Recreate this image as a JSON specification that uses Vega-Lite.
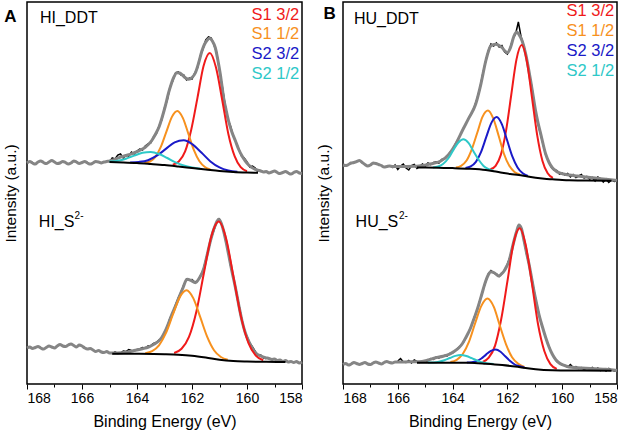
{
"$schema":"https://vega.github.io/schema/vega-lite/v6.json",
"padding":{"left":2,"top":1,"right":0,"bottom":0},
"config":{"font":"Liberation Sans","view":{"stroke":"#000","strokeWidth":1.5},
 "axis":{"labelFont":"Liberation Sans","titleFont":"Liberation Sans","labelColor":"#000","titleColor":"#000","titleFontWeight":"normal","grid":false,"domain":false,"tickColor":"#000"},
 "text":{"font":"Liberation Sans"}},
"spacing":6,
"datasets":{
"A":[
{"k":"e","s":"t","x":168.0,"y":221},{"k":"e","s":"t","x":167.9,"y":222.5},{"k":"e","s":"t","x":167.8,"y":221},{"k":"e","s":"t","x":167.7,"y":220},{"k":"e","s":"t","x":167.6,"y":222},{"k":"e","s":"t","x":167.5,"y":223},{"k":"e","s":"t","x":167.4,"y":221.5},{"k":"e","s":"t","x":167.3,"y":220.5},{"k":"e","s":"t","x":167.2,"y":222},{"k":"e","s":"t","x":167.1,"y":223.5},{"k":"e","s":"t","x":167.0,"y":222},{"k":"e","s":"t","x":166.9,"y":220.5},{"k":"e","s":"t","x":166.8,"y":221},{"k":"e","s":"t","x":166.7,"y":222.5},{"k":"e","s":"t","x":166.6,"y":221.5},{"k":"e","s":"t","x":166.5,"y":220},{"k":"e","s":"t","x":166.4,"y":221},{"k":"e","s":"t","x":166.3,"y":223},{"k":"e","s":"t","x":166.2,"y":222},{"k":"e","s":"t","x":166.1,"y":220.5},{"k":"e","s":"t","x":166.0,"y":221.5},{"k":"e","s":"t","x":165.9,"y":222.5},{"k":"e","s":"t","x":165.8,"y":221},{"k":"e","s":"t","x":165.7,"y":220},{"k":"e","s":"t","x":165.6,"y":221},{"k":"e","s":"t","x":165.5,"y":222.5},{"k":"e","s":"t","x":165.4,"y":222},{"k":"e","s":"t","x":165.3,"y":221},{"k":"e","s":"t","x":165.2,"y":222},{"k":"e","s":"t","x":165.1,"y":222.5},{"k":"e","s":"t","x":165.0,"y":223},
{"k":"e","s":"t","x":164.91,"y":223.7},{"k":"e","s":"t","x":164.73,"y":225.5},{"k":"e","s":"t","x":164.55,"y":227.3},{"k":"e","s":"t","x":164.37,"y":228.8},{"k":"e","s":"t","x":164.18,"y":230.3},{"k":"e","s":"t","x":164.0,"y":232.3},{"k":"e","s":"t","x":163.82,"y":234.7},{"k":"e","s":"t","x":163.7,"y":236.8},{"k":"e","s":"t","x":163.58,"y":239.7},{"k":"e","s":"t","x":163.45,"y":244},{"k":"e","s":"t","x":163.33,"y":249.7},{"k":"e","s":"t","x":163.2,"y":257},{"k":"e","s":"t","x":163.09,"y":266.3},{"k":"e","s":"t","x":162.97,"y":278},{"k":"e","s":"t","x":162.85,"y":291.3},{"k":"e","s":"t","x":162.76,"y":299.5},{"k":"e","s":"t","x":162.67,"y":306.3},{"k":"e","s":"t","x":162.55,"y":311.3},{"k":"e","s":"t","x":162.45,"y":311},{"k":"e","s":"t","x":162.35,"y":309},{"k":"e","s":"t","x":162.23,"y":306},{"k":"e","s":"t","x":162.12,"y":304.7},{"k":"e","s":"t","x":162.0,"y":306.5},{"k":"e","s":"t","x":161.88,"y":311},{"k":"e","s":"t","x":161.76,"y":321},{"k":"e","s":"t","x":161.64,"y":333},{"k":"e","s":"t","x":161.54,"y":340},{"k":"e","s":"t","x":161.45,"y":343.7},{"k":"e","s":"t","x":161.37,"y":345.7},{"k":"e","s":"t","x":161.26,"y":343},{"k":"e","s":"t","x":161.15,"y":336},{"k":"e","s":"t","x":161.06,"y":324},{"k":"e","s":"t","x":160.97,"y":309.7},{"k":"e","s":"t","x":160.91,"y":298},{"k":"e","s":"t","x":160.85,"y":286},{"k":"e","s":"t","x":160.76,"y":274},{"k":"e","s":"t","x":160.67,"y":263},{"k":"e","s":"t","x":160.55,"y":252},{"k":"e","s":"t","x":160.42,"y":243},{"k":"e","s":"t","x":160.3,"y":234.5},{"k":"e","s":"t","x":160.18,"y":228},{"k":"e","s":"t","x":160.06,"y":223},{"k":"e","s":"t","x":159.94,"y":219},{"k":"e","s":"t","x":159.82,"y":216.5},{"k":"e","s":"t","x":159.7,"y":214.7},{"k":"e","s":"t","x":159.6,"y":213.8},
{"k":"e","s":"t","x":159.5,"y":213},{"k":"e","s":"t","x":159.4,"y":212},{"k":"e","s":"t","x":159.3,"y":212.5},{"k":"e","s":"t","x":159.2,"y":211},{"k":"e","s":"t","x":159.1,"y":212},{"k":"e","s":"t","x":159.0,"y":213},{"k":"e","s":"t","x":158.9,"y":211.5},{"k":"e","s":"t","x":158.8,"y":210.5},{"k":"e","s":"t","x":158.7,"y":211.5},{"k":"e","s":"t","x":158.6,"y":212.5},{"k":"e","s":"t","x":158.5,"y":211},{"k":"e","s":"t","x":158.4,"y":210},{"k":"e","s":"t","x":158.3,"y":211.5},{"k":"e","s":"t","x":158.2,"y":212.5},{"k":"e","s":"t","x":158.1,"y":211},{"k":"e","s":"t","x":158.0,"y":210.5},
{"k":"r","s":"t","x":165.0,"y":222},{"k":"r","s":"t","x":164.9,"y":226},{"k":"r","s":"t","x":164.8,"y":225},{"k":"r","s":"t","x":164.7,"y":229},{"k":"r","s":"t","x":164.6,"y":230},{"k":"r","s":"t","x":164.5,"y":226},{"k":"r","s":"t","x":164.4,"y":229},{"k":"r","s":"t","x":164.3,"y":228},{"k":"r","s":"t","x":164.2,"y":232},{"k":"r","s":"t","x":164.1,"y":230},{"k":"r","s":"t","x":164.0,"y":233},{"k":"r","s":"t","x":163.9,"y":235},{"k":"r","s":"t","x":163.8,"y":234},{"k":"r","s":"t","x":163.7,"y":238},{"k":"r","s":"t","x":163.6,"y":240},{"k":"r","s":"t","x":163.5,"y":241},{"k":"r","s":"t","x":163.4,"y":247},{"k":"r","s":"t","x":163.3,"y":250},{"k":"r","s":"t","x":163.2,"y":258},{"k":"r","s":"t","x":163.1,"y":264},{"k":"r","s":"t","x":163.0,"y":276},{"k":"r","s":"t","x":162.9,"y":284},{"k":"r","s":"t","x":162.8,"y":297},{"k":"r","s":"t","x":162.7,"y":303},{"k":"r","s":"t","x":162.6,"y":311},{"k":"r","s":"t","x":162.5,"y":312},{"k":"r","s":"t","x":162.4,"y":309},{"k":"r","s":"t","x":162.3,"y":309},{"k":"r","s":"t","x":162.2,"y":304},{"k":"r","s":"t","x":162.1,"y":306},{"k":"r","s":"t","x":162.0,"y":305},{"k":"r","s":"t","x":161.9,"y":311},{"k":"r","s":"t","x":161.8,"y":316},{"k":"r","s":"t","x":161.7,"y":328},{"k":"r","s":"t","x":161.6,"y":335},{"k":"r","s":"t","x":161.5,"y":344},{"k":"r","s":"t","x":161.4,"y":347},{"k":"r","s":"t","x":161.3,"y":346},{"k":"r","s":"t","x":161.2,"y":339},{"k":"r","s":"t","x":161.1,"y":331},{"k":"r","s":"t","x":161.0,"y":313},{"k":"r","s":"t","x":160.9,"y":298},{"k":"r","s":"t","x":160.8,"y":280},{"k":"r","s":"t","x":160.7,"y":265},{"k":"r","s":"t","x":160.6,"y":258},{"k":"r","s":"t","x":160.5,"y":248},{"k":"r","s":"t","x":160.4,"y":242},{"k":"r","s":"t","x":160.3,"y":235},{"k":"r","s":"t","x":160.2,"y":228},{"k":"r","s":"t","x":160.1,"y":226},{"k":"r","s":"t","x":160.0,"y":222},{"k":"r","s":"t","x":159.9,"y":217},{"k":"r","s":"t","x":159.8,"y":218},{"k":"r","s":"t","x":159.7,"y":216},{"k":"r","s":"t","x":159.6,"y":212},
{"k":"b","s":"t","x":165.0,"y":222},{"k":"b","s":"t","x":164.5,"y":221.6},{"k":"b","s":"t","x":164.0,"y":221},{"k":"b","s":"t","x":163.5,"y":220},{"k":"b","s":"t","x":163.0,"y":218.9},{"k":"b","s":"t","x":162.5,"y":217.5},{"k":"b","s":"t","x":162.0,"y":216},{"k":"b","s":"t","x":161.5,"y":214.5},{"k":"b","s":"t","x":161.0,"y":213},{"k":"b","s":"t","x":160.5,"y":212},{"k":"b","s":"t","x":160.0,"y":211.5},{"k":"b","s":"t","x":159.6,"y":211.3},
{"k":"c","s":"t","c":"S1 3/2","x":160.0,"y":212.8},{"k":"c","s":"t","c":"S1 3/2","x":160.23,"y":216.8},{"k":"c","s":"t","c":"S1 3/2","x":160.45,"y":227.8},{"k":"c","s":"t","c":"S1 3/2","x":160.68,"y":250.3},{"k":"c","s":"t","c":"S1 3/2","x":160.9,"y":283.8},{"k":"c","s":"t","c":"S1 3/2","x":161.13,"y":316.7},{"k":"c","s":"t","c":"S1 3/2","x":161.35,"y":331},{"k":"c","s":"t","c":"S1 3/2","x":161.58,"y":318},{"k":"c","s":"t","c":"S1 3/2","x":161.8,"y":286.4},{"k":"c","s":"t","c":"S1 3/2","x":162.03,"y":254.1},{"k":"c","s":"t","c":"S1 3/2","x":162.25,"y":232.6},{"k":"c","s":"t","c":"S1 3/2","x":162.48,"y":222.5},{"k":"c","s":"t","c":"S1 3/2","x":162.7,"y":219.4},
{"k":"c","s":"t","c":"S1 1/2","x":161.33,"y":214.5},{"k":"c","s":"t","c":"S1 1/2","x":161.53,"y":217},{"k":"c","s":"t","c":"S1 1/2","x":161.73,"y":222.7},{"k":"c","s":"t","c":"S1 1/2","x":161.93,"y":233.8},{"k":"c","s":"t","c":"S1 1/2","x":162.13,"y":250},{"k":"c","s":"t","c":"S1 1/2","x":162.33,"y":265.9},{"k":"c","s":"t","c":"S1 1/2","x":162.53,"y":273},{"k":"c","s":"t","c":"S1 1/2","x":162.73,"y":267.1},{"k":"c","s":"t","c":"S1 1/2","x":162.93,"y":252.4},{"k":"c","s":"t","c":"S1 1/2","x":163.13,"y":237.3},{"k":"c","s":"t","c":"S1 1/2","x":163.33,"y":227.2},{"k":"c","s":"t","c":"S1 1/2","x":163.53,"y":222.5},{"k":"c","s":"t","c":"S1 1/2","x":163.73,"y":221.1},
{"k":"c","s":"t","c":"S2 3/2","x":160.35,"y":212.2},{"k":"c","s":"t","c":"S2 3/2","x":160.68,"y":213.5},{"k":"c","s":"t","c":"S2 3/2","x":161.0,"y":216.6},{"k":"c","s":"t","c":"S2 3/2","x":161.33,"y":222.6},{"k":"c","s":"t","c":"S2 3/2","x":161.65,"y":231.2},{"k":"c","s":"t","c":"S2 3/2","x":161.98,"y":239.6},{"k":"c","s":"t","c":"S2 3/2","x":162.3,"y":243.7},{"k":"c","s":"t","c":"S2 3/2","x":162.63,"y":241.6},{"k":"c","s":"t","c":"S2 3/2","x":162.95,"y":235.1},{"k":"c","s":"t","c":"S2 3/2","x":163.28,"y":228.3},{"k":"c","s":"t","c":"S2 3/2","x":163.6,"y":223.8},{"k":"c","s":"t","c":"S2 3/2","x":163.93,"y":222.1},{"k":"c","s":"t","c":"S2 3/2","x":164.25,"y":221.6},
{"k":"c","s":"t","c":"S2 1/2","x":161.7,"y":215.2},{"k":"c","s":"t","c":"S2 1/2","x":162.0,"y":216.5},{"k":"c","s":"t","c":"S2 1/2","x":162.3,"y":218.5},{"k":"c","s":"t","c":"S2 1/2","x":162.6,"y":221.7},{"k":"c","s":"t","c":"S2 1/2","x":162.9,"y":226},{"k":"c","s":"t","c":"S2 1/2","x":163.2,"y":230},{"k":"c","s":"t","c":"S2 1/2","x":163.5,"y":232},{"k":"c","s":"t","c":"S2 1/2","x":163.8,"y":231.2},{"k":"c","s":"t","c":"S2 1/2","x":164.1,"y":228.4},{"k":"c","s":"t","c":"S2 1/2","x":164.4,"y":225.3},{"k":"c","s":"t","c":"S2 1/2","x":164.7,"y":223.3},{"k":"c","s":"t","c":"S2 1/2","x":165.0,"y":222.5},
{"k":"e","s":"b","x":168.0,"y":36},{"k":"e","s":"b","x":167.9,"y":37},{"k":"e","s":"b","x":167.8,"y":35.5},{"k":"e","s":"b","x":167.7,"y":36.5},{"k":"e","s":"b","x":167.6,"y":37.5},{"k":"e","s":"b","x":167.5,"y":36},{"k":"e","s":"b","x":167.4,"y":35},{"k":"e","s":"b","x":167.3,"y":36.5},{"k":"e","s":"b","x":167.2,"y":38},{"k":"e","s":"b","x":167.1,"y":37},{"k":"e","s":"b","x":167.0,"y":36},{"k":"e","s":"b","x":166.9,"y":38},{"k":"e","s":"b","x":166.8,"y":39.5},{"k":"e","s":"b","x":166.7,"y":38},{"k":"e","s":"b","x":166.6,"y":37.5},{"k":"e","s":"b","x":166.5,"y":39},{"k":"e","s":"b","x":166.4,"y":40},{"k":"e","s":"b","x":166.3,"y":38.5},{"k":"e","s":"b","x":166.2,"y":37},{"k":"e","s":"b","x":166.1,"y":39},{"k":"e","s":"b","x":166.0,"y":38},{"k":"e","s":"b","x":165.9,"y":36},{"k":"e","s":"b","x":165.8,"y":35},{"k":"e","s":"b","x":165.7,"y":35.5},{"k":"e","s":"b","x":165.6,"y":34},{"k":"e","s":"b","x":165.5,"y":32.5},{"k":"e","s":"b","x":165.4,"y":33.5},{"k":"e","s":"b","x":165.3,"y":32},{"k":"e","s":"b","x":165.2,"y":31.5},{"k":"e","s":"b","x":165.1,"y":32.5},{"k":"e","s":"b","x":165.0,"y":31},
{"k":"e","s":"b","x":164.9,"y":31},{"k":"e","s":"b","x":164.55,"y":31.3},{"k":"e","s":"b","x":164.06,"y":33.7},{"k":"e","s":"b","x":163.8,"y":35.3},{"k":"e","s":"b","x":163.58,"y":37},{"k":"e","s":"b","x":163.4,"y":39.5},{"k":"e","s":"b","x":163.21,"y":43},{"k":"e","s":"b","x":163.09,"y":47},{"k":"e","s":"b","x":162.97,"y":53},{"k":"e","s":"b","x":162.85,"y":61},{"k":"e","s":"b","x":162.73,"y":69.7},{"k":"e","s":"b","x":162.6,"y":78},{"k":"e","s":"b","x":162.48,"y":86.3},{"k":"e","s":"b","x":162.33,"y":96},{"k":"e","s":"b","x":162.18,"y":104.7},{"k":"e","s":"b","x":162.03,"y":103.5},{"k":"e","s":"b","x":161.88,"y":101.3},{"k":"e","s":"b","x":161.73,"y":106},{"k":"e","s":"b","x":161.58,"y":114.7},{"k":"e","s":"b","x":161.45,"y":129},{"k":"e","s":"b","x":161.33,"y":143},{"k":"e","s":"b","x":161.24,"y":152},{"k":"e","s":"b","x":161.15,"y":159},{"k":"e","s":"b","x":161.03,"y":164.7},{"k":"e","s":"b","x":160.94,"y":161},{"k":"e","s":"b","x":160.85,"y":153},{"k":"e","s":"b","x":160.76,"y":142},{"k":"e","s":"b","x":160.67,"y":129.7},{"k":"e","s":"b","x":160.55,"y":113},{"k":"e","s":"b","x":160.42,"y":96.3},{"k":"e","s":"b","x":160.3,"y":79},{"k":"e","s":"b","x":160.18,"y":63},{"k":"e","s":"b","x":160.06,"y":51},{"k":"e","s":"b","x":159.94,"y":43},{"k":"e","s":"b","x":159.82,"y":36.5},{"k":"e","s":"b","x":159.7,"y":31.3},{"k":"e","s":"b","x":159.5,"y":28},{"k":"e","s":"b","x":159.33,"y":26.3},
{"k":"e","s":"b","x":159.2,"y":25.5},{"k":"e","s":"b","x":159.1,"y":24.5},{"k":"e","s":"b","x":159.0,"y":25},{"k":"e","s":"b","x":158.9,"y":23.5},{"k":"e","s":"b","x":158.8,"y":24},{"k":"e","s":"b","x":158.7,"y":22.5},{"k":"e","s":"b","x":158.6,"y":23.5},{"k":"e","s":"b","x":158.5,"y":22},{"k":"e","s":"b","x":158.4,"y":22.5},{"k":"e","s":"b","x":158.3,"y":21.5},{"k":"e","s":"b","x":158.2,"y":22.5},{"k":"e","s":"b","x":158.1,"y":21},{"k":"e","s":"b","x":158.0,"y":22},
{"k":"r","s":"b","x":164.9,"y":30},{"k":"r","s":"b","x":164.8,"y":32},{"k":"r","s":"b","x":164.7,"y":30.5},{"k":"r","s":"b","x":164.6,"y":31},{"k":"r","s":"b","x":164.5,"y":33},{"k":"r","s":"b","x":164.4,"y":32.5},{"k":"r","s":"b","x":164.3,"y":34.5},{"k":"r","s":"b","x":164.2,"y":33.5},{"k":"r","s":"b","x":164.1,"y":33},{"k":"r","s":"b","x":164.0,"y":34.5},{"k":"r","s":"b","x":163.9,"y":35},{"k":"r","s":"b","x":163.8,"y":36.5},{"k":"r","s":"b","x":163.7,"y":36},{"k":"r","s":"b","x":163.6,"y":38},{"k":"r","s":"b","x":163.5,"y":38.5},{"k":"r","s":"b","x":163.4,"y":40.5},{"k":"r","s":"b","x":163.3,"y":41.5},{"k":"r","s":"b","x":163.2,"y":44},{"k":"r","s":"b","x":163.1,"y":46},{"k":"r","s":"b","x":163.0,"y":52},{"k":"r","s":"b","x":162.9,"y":57},{"k":"r","s":"b","x":162.8,"y":66},{"k":"r","s":"b","x":162.7,"y":71},{"k":"r","s":"b","x":162.6,"y":79},{"k":"r","s":"b","x":162.5,"y":86},{"k":"r","s":"b","x":162.4,"y":92},{"k":"r","s":"b","x":162.3,"y":99},{"k":"r","s":"b","x":162.2,"y":105},{"k":"r","s":"b","x":162.1,"y":104},{"k":"r","s":"b","x":162.0,"y":104.5},{"k":"r","s":"b","x":161.9,"y":102},{"k":"r","s":"b","x":161.8,"y":103},{"k":"r","s":"b","x":161.7,"y":108},{"k":"r","s":"b","x":161.6,"y":113},{"k":"r","s":"b","x":161.5,"y":124},{"k":"r","s":"b","x":161.4,"y":135},{"k":"r","s":"b","x":161.3,"y":146},{"k":"r","s":"b","x":161.2,"y":154},{"k":"r","s":"b","x":161.1,"y":162},{"k":"r","s":"b","x":161.0,"y":165},{"k":"r","s":"b","x":160.9,"y":158.5},{"k":"r","s":"b","x":160.8,"y":147},{"k":"r","s":"b","x":160.7,"y":135},{"k":"r","s":"b","x":160.6,"y":119},{"k":"r","s":"b","x":160.5,"y":107},{"k":"r","s":"b","x":160.4,"y":94},{"k":"r","s":"b","x":160.3,"y":80},{"k":"r","s":"b","x":160.2,"y":66},{"k":"r","s":"b","x":160.1,"y":54},{"k":"r","s":"b","x":160.0,"y":47.5},{"k":"r","s":"b","x":159.9,"y":41},{"k":"r","s":"b","x":159.8,"y":37},{"k":"r","s":"b","x":159.7,"y":32.5},{"k":"r","s":"b","x":159.6,"y":29},{"k":"r","s":"b","x":159.5,"y":29},{"k":"r","s":"b","x":159.4,"y":26},{"k":"r","s":"b","x":159.3,"y":25.5},
{"k":"b","s":"b","x":164.9,"y":30.3},{"k":"b","s":"b","x":164.0,"y":30.2},{"k":"b","s":"b","x":163.0,"y":29.8},{"k":"b","s":"b","x":162.5,"y":29.3},{"k":"b","s":"b","x":162.0,"y":28.3},{"k":"b","s":"b","x":161.5,"y":26.5},{"k":"b","s":"b","x":161.0,"y":24.3},{"k":"b","s":"b","x":160.5,"y":23},{"k":"b","s":"b","x":160.0,"y":22.5},{"k":"b","s":"b","x":159.3,"y":22.2},{"k":"b","s":"b","x":158.6,"y":22},
{"k":"c","s":"b","c":"S1 3/2","x":159.41,"y":23.7},{"k":"c","s":"b","c":"S1 3/2","x":159.68,"y":28.4},{"k":"c","s":"b","c":"S1 3/2","x":159.95,"y":41.1},{"k":"c","s":"b","c":"S1 3/2","x":160.22,"y":67.6},{"k":"c","s":"b","c":"S1 3/2","x":160.49,"y":106.8},{"k":"c","s":"b","c":"S1 3/2","x":160.76,"y":145.5},{"k":"c","s":"b","c":"S1 3/2","x":161.03,"y":162.4},{"k":"c","s":"b","c":"S1 3/2","x":161.3,"y":147.3},{"k":"c","s":"b","c":"S1 3/2","x":161.57,"y":110.5},{"k":"c","s":"b","c":"S1 3/2","x":161.84,"y":72.6},{"k":"c","s":"b","c":"S1 3/2","x":162.11,"y":47.1},{"k":"c","s":"b","c":"S1 3/2","x":162.38,"y":35.2},{"k":"c","s":"b","c":"S1 3/2","x":162.65,"y":31},
{"k":"c","s":"b","c":"S1 1/2","x":160.7,"y":24.2},{"k":"c","s":"b","c":"S1 1/2","x":160.95,"y":27},{"k":"c","s":"b","c":"S1 1/2","x":161.2,"y":33.8},{"k":"c","s":"b","c":"S1 1/2","x":161.45,"y":47.4},{"k":"c","s":"b","c":"S1 1/2","x":161.7,"y":66.8},{"k":"c","s":"b","c":"S1 1/2","x":161.95,"y":85.6},{"k":"c","s":"b","c":"S1 1/2","x":162.2,"y":93.7},{"k":"c","s":"b","c":"S1 1/2","x":162.45,"y":86.6},{"k":"c","s":"b","c":"S1 1/2","x":162.7,"y":69},{"k":"c","s":"b","c":"S1 1/2","x":162.95,"y":50.8},{"k":"c","s":"b","c":"S1 1/2","x":163.2,"y":38.7},{"k":"c","s":"b","c":"S1 1/2","x":163.45,"y":32.9},{"k":"c","s":"b","c":"S1 1/2","x":163.7,"y":30.8}
],
"B":[
{"k":"e","s":"t","x":168.0,"y":219},{"k":"e","s":"t","x":167.9,"y":218.5},{"k":"e","s":"t","x":167.8,"y":219.5},{"k":"e","s":"t","x":167.7,"y":221},{"k":"e","s":"t","x":167.6,"y":221.5},{"k":"e","s":"t","x":167.5,"y":222.5},{"k":"e","s":"t","x":167.4,"y":223.5},{"k":"e","s":"t","x":167.3,"y":221.5},{"k":"e","s":"t","x":167.2,"y":219.5},{"k":"e","s":"t","x":167.1,"y":218},{"k":"e","s":"t","x":167.0,"y":219},{"k":"e","s":"t","x":166.9,"y":221},{"k":"e","s":"t","x":166.8,"y":220.5},{"k":"e","s":"t","x":166.7,"y":219.5},{"k":"e","s":"t","x":166.6,"y":218.5},{"k":"e","s":"t","x":166.5,"y":217},{"k":"e","s":"t","x":166.4,"y":217.5},{"k":"e","s":"t","x":166.3,"y":218},
{"k":"e","s":"t","x":166.2,"y":217.5},{"k":"e","s":"t","x":165.7,"y":217.6},{"k":"e","s":"t","x":165.23,"y":218},{"k":"e","s":"t","x":164.86,"y":219.7},{"k":"e","s":"t","x":164.43,"y":223},{"k":"e","s":"t","x":164.13,"y":229.7},{"k":"e","s":"t","x":163.89,"y":239.7},{"k":"e","s":"t","x":163.65,"y":253},{"k":"e","s":"t","x":163.4,"y":266.3},{"k":"e","s":"t","x":163.16,"y":279.7},{"k":"e","s":"t","x":162.97,"y":299.7},{"k":"e","s":"t","x":162.79,"y":323},{"k":"e","s":"t","x":162.7,"y":332},{"k":"e","s":"t","x":162.61,"y":338},{"k":"e","s":"t","x":162.43,"y":339.7},{"k":"e","s":"t","x":162.3,"y":338.5},{"k":"e","s":"t","x":162.19,"y":336.3},{"k":"e","s":"t","x":162.09,"y":333},{"k":"e","s":"t","x":162.0,"y":331.3},{"k":"e","s":"t","x":161.88,"y":337},{"k":"e","s":"t","x":161.76,"y":348},{"k":"e","s":"t","x":161.66,"y":352},{"k":"e","s":"t","x":161.58,"y":349.7},{"k":"e","s":"t","x":161.46,"y":343},{"k":"e","s":"t","x":161.33,"y":329.7},{"k":"e","s":"t","x":161.24,"y":317},{"k":"e","s":"t","x":161.15,"y":303},{"k":"e","s":"t","x":161.06,"y":288},{"k":"e","s":"t","x":160.97,"y":273},{"k":"e","s":"t","x":160.88,"y":261},{"k":"e","s":"t","x":160.78,"y":249.7},{"k":"e","s":"t","x":160.6,"y":229.7},{"k":"e","s":"t","x":160.48,"y":221.5},{"k":"e","s":"t","x":160.36,"y":216.3},{"k":"e","s":"t","x":160.24,"y":213.3},{"k":"e","s":"t","x":160.12,"y":211.3},{"k":"e","s":"t","x":159.95,"y":210},{"k":"e","s":"t","x":159.75,"y":209},{"k":"e","s":"t","x":159.45,"y":208},{"k":"e","s":"t","x":159.14,"y":207},{"k":"e","s":"t","x":158.8,"y":206},{"k":"e","s":"t","x":158.41,"y":204.7},{"k":"e","s":"t","x":158.0,"y":203.5},
{"k":"r","s":"t","x":166.2,"y":216},{"k":"r","s":"t","x":166.1,"y":219},{"k":"r","s":"t","x":166.0,"y":214.5},{"k":"r","s":"t","x":165.9,"y":218},{"k":"r","s":"t","x":165.8,"y":220},{"k":"r","s":"t","x":165.7,"y":216},{"k":"r","s":"t","x":165.6,"y":214},{"k":"r","s":"t","x":165.5,"y":218.5},{"k":"r","s":"t","x":165.4,"y":219.5},{"k":"r","s":"t","x":165.3,"y":215.5},{"k":"r","s":"t","x":165.2,"y":217.5},{"k":"r","s":"t","x":165.1,"y":220},{"k":"r","s":"t","x":165.0,"y":218},{"k":"r","s":"t","x":164.9,"y":221},{"k":"r","s":"t","x":164.8,"y":219.5},{"k":"r","s":"t","x":164.7,"y":221.5},{"k":"r","s":"t","x":164.6,"y":222},{"k":"r","s":"t","x":164.5,"y":221},{"k":"r","s":"t","x":164.4,"y":224.5},{"k":"r","s":"t","x":164.3,"y":225},{"k":"r","s":"t","x":164.2,"y":228},{"k":"r","s":"t","x":164.1,"y":231.5},{"k":"r","s":"t","x":164.0,"y":234},{"k":"r","s":"t","x":163.9,"y":240},{"k":"r","s":"t","x":163.8,"y":245},{"k":"r","s":"t","x":163.7,"y":250},{"k":"r","s":"t","x":163.6,"y":256},{"k":"r","s":"t","x":163.5,"y":261},{"k":"r","s":"t","x":163.4,"y":266.5},{"k":"r","s":"t","x":163.3,"y":271},{"k":"r","s":"t","x":163.2,"y":277.5},{"k":"r","s":"t","x":163.1,"y":286},{"k":"r","s":"t","x":163.0,"y":296},{"k":"r","s":"t","x":162.9,"y":310},{"k":"r","s":"t","x":162.8,"y":322},{"k":"r","s":"t","x":162.7,"y":333},{"k":"r","s":"t","x":162.6,"y":340},{"k":"r","s":"t","x":162.5,"y":338},{"k":"r","s":"t","x":162.4,"y":341},{"k":"r","s":"t","x":162.3,"y":337},{"k":"r","s":"t","x":162.2,"y":338.5},{"k":"r","s":"t","x":162.1,"y":332},{"k":"r","s":"t","x":162.0,"y":330},{"k":"r","s":"t","x":161.9,"y":336},{"k":"r","s":"t","x":161.8,"y":345},{"k":"r","s":"t","x":161.7,"y":350},{"k":"r","s":"t","x":161.6,"y":362},{"k":"r","s":"t","x":161.5,"y":347},{"k":"r","s":"t","x":161.4,"y":338},{"k":"r","s":"t","x":161.3,"y":326},{"k":"r","s":"t","x":161.2,"y":310},{"k":"r","s":"t","x":161.1,"y":296},{"k":"r","s":"t","x":161.0,"y":276},{"k":"r","s":"t","x":160.9,"y":262},{"k":"r","s":"t","x":160.8,"y":251},{"k":"r","s":"t","x":160.7,"y":240},{"k":"r","s":"t","x":160.6,"y":229},{"k":"r","s":"t","x":160.5,"y":223},{"k":"r","s":"t","x":160.4,"y":217},{"k":"r","s":"t","x":160.3,"y":214},{"k":"r","s":"t","x":160.2,"y":213.5},{"k":"r","s":"t","x":160.1,"y":210},{"k":"r","s":"t","x":160.0,"y":211},{"k":"r","s":"t","x":159.9,"y":209},{"k":"r","s":"t","x":159.8,"y":210.5},{"k":"r","s":"t","x":159.7,"y":207},{"k":"r","s":"t","x":159.6,"y":209.5},{"k":"r","s":"t","x":159.5,"y":206.5},{"k":"r","s":"t","x":159.4,"y":208},{"k":"r","s":"t","x":159.3,"y":209.5},{"k":"r","s":"t","x":159.2,"y":206},{"k":"r","s":"t","x":159.1,"y":207.5},{"k":"r","s":"t","x":159.0,"y":205},{"k":"r","s":"t","x":158.9,"y":206.5},{"k":"r","s":"t","x":158.8,"y":203},{"k":"r","s":"t","x":158.7,"y":207},{"k":"r","s":"t","x":158.6,"y":205.5},{"k":"r","s":"t","x":158.5,"y":202},{"k":"r","s":"t","x":158.4,"y":205},{"k":"r","s":"t","x":158.3,"y":201.5},{"k":"r","s":"t","x":158.2,"y":204},{"k":"r","s":"t","x":158.1,"y":202.5},{"k":"r","s":"t","x":158.0,"y":203},
{"k":"b","s":"t","x":165.3,"y":216.5},{"k":"b","s":"t","x":164.5,"y":216.2},{"k":"b","s":"t","x":164.0,"y":215.9},{"k":"b","s":"t","x":163.4,"y":215.3},{"k":"b","s":"t","x":162.79,"y":214},{"k":"b","s":"t","x":162.5,"y":212.8},{"k":"b","s":"t","x":162.19,"y":211.3},{"k":"b","s":"t","x":161.9,"y":210},{"k":"b","s":"t","x":161.58,"y":209},{"k":"b","s":"t","x":161.3,"y":207.7},{"k":"b","s":"t","x":160.97,"y":206.3},{"k":"b","s":"t","x":160.65,"y":205.3},{"k":"b","s":"t","x":160.36,"y":204.7},{"k":"b","s":"t","x":160.0,"y":204},{"k":"b","s":"t","x":159.75,"y":203.7},{"k":"b","s":"t","x":159.1,"y":203.5},{"k":"b","s":"t","x":158.2,"y":203.3},
{"k":"c","s":"t","c":"S1 3/2","x":160.34,"y":206.1},{"k":"c","s":"t","c":"S1 3/2","x":160.53,"y":210.7},{"k":"c","s":"t","c":"S1 3/2","x":160.72,"y":223.1},{"k":"c","s":"t","c":"S1 3/2","x":160.91,"y":248.4},{"k":"c","s":"t","c":"S1 3/2","x":161.1,"y":285.9},{"k":"c","s":"t","c":"S1 3/2","x":161.29,"y":322.8},{"k":"c","s":"t","c":"S1 3/2","x":161.48,"y":338.9},{"k":"c","s":"t","c":"S1 3/2","x":161.67,"y":324.4},{"k":"c","s":"t","c":"S1 3/2","x":161.86,"y":289},{"k":"c","s":"t","c":"S1 3/2","x":162.05,"y":253.1},{"k":"c","s":"t","c":"S1 3/2","x":162.24,"y":229.1},{"k":"c","s":"t","c":"S1 3/2","x":162.43,"y":218.2},{"k":"c","s":"t","c":"S1 3/2","x":162.62,"y":214.7},
{"k":"c","s":"t","c":"S1 1/2","x":161.54,"y":209.5},{"k":"c","s":"t","c":"S1 1/2","x":161.74,"y":212.1},{"k":"c","s":"t","c":"S1 1/2","x":161.93,"y":218.2},{"k":"c","s":"t","c":"S1 1/2","x":162.13,"y":230.5},{"k":"c","s":"t","c":"S1 1/2","x":162.32,"y":248.3},{"k":"c","s":"t","c":"S1 1/2","x":162.52,"y":265.8},{"k":"c","s":"t","c":"S1 1/2","x":162.71,"y":273.5},{"k":"c","s":"t","c":"S1 1/2","x":162.91,"y":267.2},{"k":"c","s":"t","c":"S1 1/2","x":163.1,"y":251.2},{"k":"c","s":"t","c":"S1 1/2","x":163.3,"y":234.7},{"k":"c","s":"t","c":"S1 1/2","x":163.49,"y":223.5},{"k":"c","s":"t","c":"S1 1/2","x":163.69,"y":218.2},{"k":"c","s":"t","c":"S1 1/2","x":163.88,"y":216.5},
{"k":"c","s":"t","c":"S2 3/2","x":161.25,"y":208.1},{"k":"c","s":"t","c":"S2 3/2","x":161.44,"y":210.7},{"k":"c","s":"t","c":"S2 3/2","x":161.63,"y":216.6},{"k":"c","s":"t","c":"S2 3/2","x":161.82,"y":227.6},{"k":"c","s":"t","c":"S2 3/2","x":162.01,"y":243.7},{"k":"c","s":"t","c":"S2 3/2","x":162.2,"y":259.7},{"k":"c","s":"t","c":"S2 3/2","x":162.39,"y":267},{"k":"c","s":"t","c":"S2 3/2","x":162.58,"y":261.4},{"k":"c","s":"t","c":"S2 3/2","x":162.77,"y":247.1},{"k":"c","s":"t","c":"S2 3/2","x":162.96,"y":232.2},{"k":"c","s":"t","c":"S2 3/2","x":163.15,"y":222.2},{"k":"c","s":"t","c":"S2 3/2","x":163.34,"y":217.6},{"k":"c","s":"t","c":"S2 3/2","x":163.53,"y":216.1},
{"k":"c","s":"t","c":"S2 1/2","x":162.5,"y":213.1},{"k":"c","s":"t","c":"S2 1/2","x":162.68,"y":214.8},{"k":"c","s":"t","c":"S2 1/2","x":162.87,"y":218.1},{"k":"c","s":"t","c":"S2 1/2","x":163.05,"y":224.2},{"k":"c","s":"t","c":"S2 1/2","x":163.24,"y":232.7},{"k":"c","s":"t","c":"S2 1/2","x":163.42,"y":241.1},{"k":"c","s":"t","c":"S2 1/2","x":163.61,"y":244.7},{"k":"c","s":"t","c":"S2 1/2","x":163.79,"y":241.5},{"k":"c","s":"t","c":"S2 1/2","x":163.98,"y":233.6},{"k":"c","s":"t","c":"S2 1/2","x":164.16,"y":225.5},{"k":"c","s":"t","c":"S2 1/2","x":164.35,"y":220},{"k":"c","s":"t","c":"S2 1/2","x":164.53,"y":217.5},{"k":"c","s":"t","c":"S2 1/2","x":164.72,"y":216.6},
{"k":"e","s":"b","x":168.0,"y":19.5},{"k":"e","s":"b","x":167.9,"y":20.5},{"k":"e","s":"b","x":167.8,"y":19},{"k":"e","s":"b","x":167.7,"y":20},{"k":"e","s":"b","x":167.6,"y":21.5},{"k":"e","s":"b","x":167.5,"y":20.5},{"k":"e","s":"b","x":167.4,"y":19.5},{"k":"e","s":"b","x":167.3,"y":20.5},{"k":"e","s":"b","x":167.2,"y":21.5},{"k":"e","s":"b","x":167.1,"y":20},{"k":"e","s":"b","x":167.0,"y":19.5},{"k":"e","s":"b","x":166.9,"y":21},{"k":"e","s":"b","x":166.8,"y":22},{"k":"e","s":"b","x":166.7,"y":21},{"k":"e","s":"b","x":166.6,"y":20},{"k":"e","s":"b","x":166.5,"y":21.5},{"k":"e","s":"b","x":166.4,"y":22.5},{"k":"e","s":"b","x":166.3,"y":21.5},{"k":"e","s":"b","x":166.2,"y":21},{"k":"e","s":"b","x":166.1,"y":22},
{"k":"e","s":"b","x":166.0,"y":22},{"k":"e","s":"b","x":165.6,"y":22.2},{"k":"e","s":"b","x":165.23,"y":22.3},{"k":"e","s":"b","x":164.9,"y":24},{"k":"e","s":"b","x":164.62,"y":26.3},{"k":"e","s":"b","x":164.35,"y":27.8},{"k":"e","s":"b","x":164.13,"y":29.7},{"k":"e","s":"b","x":163.95,"y":32.5},{"k":"e","s":"b","x":163.77,"y":36.3},{"k":"e","s":"b","x":163.64,"y":40.5},{"k":"e","s":"b","x":163.52,"y":46.3},{"k":"e","s":"b","x":163.43,"y":51},{"k":"e","s":"b","x":163.34,"y":56.3},{"k":"e","s":"b","x":163.25,"y":63},{"k":"e","s":"b","x":163.16,"y":69.7},{"k":"e","s":"b","x":163.06,"y":78},{"k":"e","s":"b","x":162.97,"y":86.3},{"k":"e","s":"b","x":162.88,"y":95},{"k":"e","s":"b","x":162.79,"y":103},{"k":"e","s":"b","x":162.7,"y":109},{"k":"e","s":"b","x":162.61,"y":112.3},{"k":"e","s":"b","x":162.5,"y":111.5},{"k":"e","s":"b","x":162.4,"y":109.5},{"k":"e","s":"b","x":162.31,"y":108},{"k":"e","s":"b","x":162.22,"y":110},{"k":"e","s":"b","x":162.12,"y":113},{"k":"e","s":"b","x":162.03,"y":117.5},{"k":"e","s":"b","x":161.94,"y":123},{"k":"e","s":"b","x":161.85,"y":133},{"k":"e","s":"b","x":161.76,"y":143},{"k":"e","s":"b","x":161.67,"y":152},{"k":"e","s":"b","x":161.58,"y":159},{"k":"e","s":"b","x":161.49,"y":155.5},{"k":"e","s":"b","x":161.39,"y":143},{"k":"e","s":"b","x":161.3,"y":131},{"k":"e","s":"b","x":161.21,"y":119.7},{"k":"e","s":"b","x":161.12,"y":106.5},{"k":"e","s":"b","x":161.03,"y":93},{"k":"e","s":"b","x":160.94,"y":81},{"k":"e","s":"b","x":160.85,"y":69.7},{"k":"e","s":"b","x":160.72,"y":57},{"k":"e","s":"b","x":160.6,"y":46.3},{"k":"e","s":"b","x":160.48,"y":37},{"k":"e","s":"b","x":160.36,"y":29.7},{"k":"e","s":"b","x":160.24,"y":24.5},{"k":"e","s":"b","x":160.12,"y":21.3},{"k":"e","s":"b","x":159.95,"y":18.8},{"k":"e","s":"b","x":159.75,"y":17},{"k":"e","s":"b","x":159.45,"y":16.3},{"k":"e","s":"b","x":159.14,"y":15.7},{"k":"e","s":"b","x":158.8,"y":15.2},{"k":"e","s":"b","x":158.4,"y":14.7},{"k":"e","s":"b","x":158.0,"y":13.5},
{"k":"r","s":"b","x":166.0,"y":23},{"k":"r","s":"b","x":165.9,"y":25.5},{"k":"r","s":"b","x":165.8,"y":22},{"k":"r","s":"b","x":165.7,"y":21.5},{"k":"r","s":"b","x":165.6,"y":23.5},{"k":"r","s":"b","x":165.5,"y":21},{"k":"r","s":"b","x":165.4,"y":24},{"k":"r","s":"b","x":165.3,"y":22.5},{"k":"r","s":"b","x":165.2,"y":21.5},{"k":"r","s":"b","x":165.1,"y":23},{"k":"r","s":"b","x":165.0,"y":22},{"k":"r","s":"b","x":164.9,"y":23.5},{"k":"r","s":"b","x":164.8,"y":25.5},{"k":"r","s":"b","x":164.7,"y":24.5},{"k":"r","s":"b","x":164.6,"y":27},{"k":"r","s":"b","x":164.5,"y":26},{"k":"r","s":"b","x":164.4,"y":27.5},{"k":"r","s":"b","x":164.3,"y":28.5},{"k":"r","s":"b","x":164.2,"y":28},{"k":"r","s":"b","x":164.1,"y":30.5},{"k":"r","s":"b","x":164.0,"y":31},{"k":"r","s":"b","x":163.9,"y":33.5},{"k":"r","s":"b","x":163.8,"y":36},{"k":"r","s":"b","x":163.7,"y":38.5},{"k":"r","s":"b","x":163.6,"y":42},{"k":"r","s":"b","x":163.5,"y":47},{"k":"r","s":"b","x":163.4,"y":53},{"k":"r","s":"b","x":163.3,"y":59},{"k":"r","s":"b","x":163.2,"y":67.5},{"k":"r","s":"b","x":163.1,"y":74},{"k":"r","s":"b","x":163.0,"y":84},{"k":"r","s":"b","x":162.9,"y":93},{"k":"r","s":"b","x":162.8,"y":102},{"k":"r","s":"b","x":162.7,"y":110},{"k":"r","s":"b","x":162.6,"y":113.5},{"k":"r","s":"b","x":162.5,"y":111},{"k":"r","s":"b","x":162.4,"y":110},{"k":"r","s":"b","x":162.3,"y":107.5},{"k":"r","s":"b","x":162.2,"y":110.5},{"k":"r","s":"b","x":162.1,"y":114},{"k":"r","s":"b","x":162.0,"y":120},{"k":"r","s":"b","x":161.9,"y":127.5},{"k":"r","s":"b","x":161.8,"y":139},{"k":"r","s":"b","x":161.7,"y":149},{"k":"r","s":"b","x":161.6,"y":158},{"k":"r","s":"b","x":161.5,"y":157},{"k":"r","s":"b","x":161.4,"y":145},{"k":"r","s":"b","x":161.3,"y":130},{"k":"r","s":"b","x":161.2,"y":118.5},{"k":"r","s":"b","x":161.1,"y":104},{"k":"r","s":"b","x":161.0,"y":89},{"k":"r","s":"b","x":160.9,"y":76},{"k":"r","s":"b","x":160.8,"y":64},{"k":"r","s":"b","x":160.7,"y":55},{"k":"r","s":"b","x":160.6,"y":46},{"k":"r","s":"b","x":160.5,"y":38.5},{"k":"r","s":"b","x":160.4,"y":32},{"k":"r","s":"b","x":160.3,"y":27},{"k":"r","s":"b","x":160.2,"y":22.5},{"k":"r","s":"b","x":160.1,"y":21},{"k":"r","s":"b","x":160.0,"y":19},{"k":"r","s":"b","x":159.9,"y":18.5},{"k":"r","s":"b","x":159.8,"y":17},{"k":"r","s":"b","x":159.7,"y":19.5},{"k":"r","s":"b","x":159.6,"y":16.5},{"k":"r","s":"b","x":159.5,"y":17.5},{"k":"r","s":"b","x":159.4,"y":15.5},{"k":"r","s":"b","x":159.3,"y":16.5},{"k":"r","s":"b","x":159.2,"y":14.5},{"k":"r","s":"b","x":159.1,"y":16},{"k":"r","s":"b","x":159.0,"y":15},{"k":"r","s":"b","x":158.9,"y":16.5},{"k":"r","s":"b","x":158.8,"y":14},{"k":"r","s":"b","x":158.7,"y":16},{"k":"r","s":"b","x":158.6,"y":13.5},{"k":"r","s":"b","x":158.5,"y":15},{"k":"r","s":"b","x":158.4,"y":13},{"k":"r","s":"b","x":158.3,"y":15.5},{"k":"r","s":"b","x":158.2,"y":14},{"k":"r","s":"b","x":158.1,"y":13},{"k":"r","s":"b","x":158.0,"y":13.5},
{"k":"b","s":"b","x":165.3,"y":21.3},{"k":"b","s":"b","x":164.5,"y":21.3},{"k":"b","s":"b","x":163.4,"y":21.2},{"k":"b","s":"b","x":162.79,"y":20.3},{"k":"b","s":"b","x":162.19,"y":19},{"k":"b","s":"b","x":161.58,"y":17},{"k":"b","s":"b","x":160.97,"y":14.7},{"k":"b","s":"b","x":160.36,"y":13.7},{"k":"b","s":"b","x":159.8,"y":13.5},{"k":"b","s":"b","x":158.2,"y":13.3},
{"k":"c","s":"b","c":"S1 3/2","x":160.2,"y":15.1},{"k":"c","s":"b","c":"S1 3/2","x":160.43,"y":19.9},{"k":"c","s":"b","c":"S1 3/2","x":160.65,"y":32.8},{"k":"c","s":"b","c":"S1 3/2","x":160.88,"y":59.5},{"k":"c","s":"b","c":"S1 3/2","x":161.1,"y":99.6},{"k":"c","s":"b","c":"S1 3/2","x":161.33,"y":138.7},{"k":"c","s":"b","c":"S1 3/2","x":161.55,"y":155.7},{"k":"c","s":"b","c":"S1 3/2","x":161.78,"y":140.2},{"k":"c","s":"b","c":"S1 3/2","x":162.0,"y":102.6},{"k":"c","s":"b","c":"S1 3/2","x":162.23,"y":64.2},{"k":"c","s":"b","c":"S1 3/2","x":162.45,"y":38.4},{"k":"c","s":"b","c":"S1 3/2","x":162.68,"y":26.3},{"k":"c","s":"b","c":"S1 3/2","x":162.9,"y":22},
{"k":"c","s":"b","c":"S1 1/2","x":161.38,"y":17.1},{"k":"c","s":"b","c":"S1 1/2","x":161.6,"y":20.1},{"k":"c","s":"b","c":"S1 1/2","x":161.83,"y":26.7},{"k":"c","s":"b","c":"S1 1/2","x":162.05,"y":39.7},{"k":"c","s":"b","c":"S1 1/2","x":162.28,"y":58.7},{"k":"c","s":"b","c":"S1 1/2","x":162.5,"y":77.3},{"k":"c","s":"b","c":"S1 1/2","x":162.73,"y":85.4},{"k":"c","s":"b","c":"S1 1/2","x":162.95,"y":78.1},{"k":"c","s":"b","c":"S1 1/2","x":163.18,"y":60.5},{"k":"c","s":"b","c":"S1 1/2","x":163.4,"y":42.4},{"k":"c","s":"b","c":"S1 1/2","x":163.63,"y":30},{"k":"c","s":"b","c":"S1 1/2","x":163.85,"y":24.2},{"k":"c","s":"b","c":"S1 1/2","x":164.08,"y":22},
{"k":"c","s":"b","c":"S2 3/2","x":161.38,"y":16.6},{"k":"c","s":"b","c":"S2 3/2","x":161.55,"y":17.7},{"k":"c","s":"b","c":"S2 3/2","x":161.73,"y":19.5},{"k":"c","s":"b","c":"S2 3/2","x":161.9,"y":23},{"k":"c","s":"b","c":"S2 3/2","x":162.08,"y":27.7},{"k":"c","s":"b","c":"S2 3/2","x":162.25,"y":32.3},{"k":"c","s":"b","c":"S2 3/2","x":162.43,"y":34.6},{"k":"c","s":"b","c":"S2 3/2","x":162.6,"y":33.1},{"k":"c","s":"b","c":"S2 3/2","x":162.78,"y":29.4},{"k":"c","s":"b","c":"S2 3/2","x":162.95,"y":25.5},{"k":"c","s":"b","c":"S2 3/2","x":163.13,"y":22.9},{"k":"c","s":"b","c":"S2 3/2","x":163.3,"y":21.8},{"k":"c","s":"b","c":"S2 3/2","x":163.48,"y":21.4},
{"k":"c","s":"b","c":"S2 1/2","x":162.5,"y":19.9},{"k":"c","s":"b","c":"S2 1/2","x":162.7,"y":20.5},{"k":"c","s":"b","c":"S2 1/2","x":162.9,"y":21.5},{"k":"c","s":"b","c":"S2 1/2","x":163.1,"y":23.4},{"k":"c","s":"b","c":"S2 1/2","x":163.3,"y":25.8},{"k":"c","s":"b","c":"S2 1/2","x":163.5,"y":28},{"k":"c","s":"b","c":"S2 1/2","x":163.7,"y":29},{"k":"c","s":"b","c":"S2 1/2","x":163.9,"y":28.1},{"k":"c","s":"b","c":"S2 1/2","x":164.1,"y":26},{"k":"c","s":"b","c":"S2 1/2","x":164.3,"y":23.8},{"k":"c","s":"b","c":"S2 1/2","x":164.5,"y":22.3},{"k":"c","s":"b","c":"S2 1/2","x":164.7,"y":21.6},{"k":"c","s":"b","c":"S2 1/2","x":164.9,"y":21.4}
]
},
"hconcat":[
{
"width":275,"height":382,
"data":{"name":"A"},
"encoding":{
 "x":{"field":"x","type":"quantitative","title":"Binding Energy (eV)","scale":{"domain":[158,168],"reverse":true,"nice":false,"zero":false},
  "axis":{"values":[158,159,160,161,162,163,164,165,166,167,168],"labelExpr":"datum.value % 2 === 0 ? datum.label : ''","labelOverlap":false,"labelFontSize":14,"titleFontSize":16,"labelPadding":2,"titlePadding":8,"tickSize":{"condition":{"test":"datum.value % 2 === 0","value":5},"value":3},"tickWidth":1}},
 "y":{"field":"y","type":"quantitative","scale":{"domain":[0,382],"nice":false,"zero":false},"axis":{"labels":false,"ticks":false,"title":"Intensity (a.u.)","titleFontSize":15.5,"titlePadding":9}}
},
"layer":[
 {"transform":[{"filter":"datum.k=='r'"}],"mark":{"type":"line","color":"#000","strokeWidth":1.5},"encoding":{"detail":{"field":"s"}}},
 {"transform":[{"filter":"datum.k=='e'"}],"mark":{"type":"line","color":"#858585","strokeWidth":3,"interpolate":"monotone"},"encoding":{"detail":{"field":"s"}}},
 {"transform":[{"filter":"datum.k=='c'"}],"mark":{"type":"line","strokeWidth":2,"interpolate":"monotone"},"encoding":{"color":{"field":"c","type":"nominal","scale":{"domain":["S1 3/2","S1 1/2","S2 3/2","S2 1/2"],"range":["#f01a1a","#f7911e","#1a1ac8","#2ec8c8"]},"legend":null},"detail":{"field":"s"}}},
 {"transform":[{"filter":"datum.k=='b'"}],"mark":{"type":"line","color":"#000","strokeWidth":2,"interpolate":"monotone"},"encoding":{"detail":{"field":"s"}}},
 {"data":{"values":[{"c":"S1 3/2","x":158.1,"y":369},{"c":"S1 1/2","x":158.1,"y":350},{"c":"S2 3/2","x":158.1,"y":330},{"c":"S2 1/2","x":158.1,"y":310}]},"mark":{"type":"text","align":"right","baseline":"middle","fontSize":16.5},"encoding":{"text":{"field":"c","type":"nominal"},"color":{"field":"c","type":"nominal","legend":null}}},
 {"data":{"values":[{"t":"HI_DDT","x":167.53,"y":366},{"t":"HI_S","x":167.57,"y":162}]},"mark":{"type":"text","align":"left","baseline":"middle","fontSize":16,"color":"#000"},"encoding":{"text":{"field":"t","type":"nominal"}}},
 {"data":{"values":[{"t":"2-","x":166.27,"y":168}]},"mark":{"type":"text","align":"left","baseline":"middle","fontSize":10,"color":"#000"},"encoding":{"text":{"field":"t","type":"nominal"}}},
 {"data":{"values":[{"t":"A","x":168.6,"y":367.5}]},"mark":{"type":"text","align":"center","baseline":"middle","fontSize":17,"fontWeight":"bold","color":"#000"},"encoding":{"text":{"field":"t","type":"nominal"}}}
]
},
{
"width":274,"height":382,
"data":{"name":"B"},
"encoding":{
 "x":{"field":"x","type":"quantitative","title":"Binding Energy (eV)","scale":{"domain":[158,168],"reverse":true,"nice":false,"zero":false},
  "axis":{"values":[158,159,160,161,162,163,164,165,166,167,168],"labelExpr":"datum.value % 2 === 0 ? datum.label : ''","labelOverlap":false,"labelFontSize":14,"titleFontSize":16,"labelPadding":2,"titlePadding":8,"tickSize":{"condition":{"test":"datum.value % 2 === 0","value":5},"value":3},"tickWidth":1}},
 "y":{"field":"y","type":"quantitative","scale":{"domain":[0,382],"nice":false,"zero":false},"axis":{"labels":false,"ticks":false,"title":"Intensity (a.u.)","titleFontSize":15.5,"titlePadding":12}}
},
"layer":[
 {"transform":[{"filter":"datum.k=='r'"}],"mark":{"type":"line","color":"#000","strokeWidth":1.5},"encoding":{"detail":{"field":"s"}}},
 {"transform":[{"filter":"datum.k=='e'"}],"mark":{"type":"line","color":"#858585","strokeWidth":3,"interpolate":"monotone"},"encoding":{"detail":{"field":"s"}}},
 {"transform":[{"filter":"datum.k=='c'"}],"mark":{"type":"line","strokeWidth":2,"interpolate":"monotone"},"encoding":{"color":{"field":"c","type":"nominal","scale":{"domain":["S1 3/2","S1 1/2","S2 3/2","S2 1/2"],"range":["#f01a1a","#f7911e","#1a1ac8","#2ec8c8"]},"legend":null},"detail":{"field":"s"}}},
 {"transform":[{"filter":"datum.k=='b'"}],"mark":{"type":"line","color":"#000","strokeWidth":2,"interpolate":"monotone"},"encoding":{"detail":{"field":"s"}}},
 {"data":{"values":[{"c":"S1 3/2","x":158.1,"y":373},{"c":"S1 1/2","x":158.1,"y":353},{"c":"S2 3/2","x":158.1,"y":333},{"c":"S2 1/2","x":158.1,"y":313}]},"mark":{"type":"text","align":"right","baseline":"middle","fontSize":16.5},"encoding":{"text":{"field":"c","type":"nominal"},"color":{"field":"c","type":"nominal","legend":null}}},
 {"data":{"values":[{"t":"HU_DDT","x":167.6,"y":365.5},{"t":"HU_S","x":167.54,"y":162}]},"mark":{"type":"text","align":"left","baseline":"middle","fontSize":16,"color":"#000"},"encoding":{"text":{"field":"t","type":"nominal"}}},
 {"data":{"values":[{"t":"2-","x":165.96,"y":168}]},"mark":{"type":"text","align":"left","baseline":"middle","fontSize":10,"color":"#000"},"encoding":{"text":{"field":"t","type":"nominal"}}},
 {"data":{"values":[{"t":"B","x":168.49,"y":370.5}]},"mark":{"type":"text","align":"center","baseline":"middle","fontSize":17,"fontWeight":"bold","color":"#000"},"encoding":{"text":{"field":"t","type":"nominal"}}}
]
}
]
}
